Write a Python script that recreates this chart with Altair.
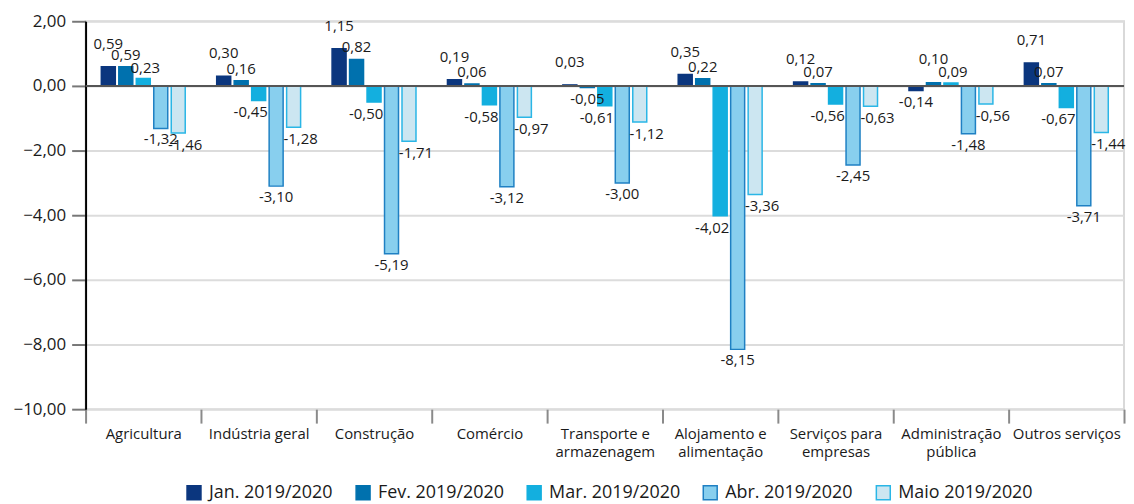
import altair as alt
import pandas as pd

categories = ["Agricultura", "Indústria geral", "Construção", "Comércio",
              "Transporte e\narmazenagem", "Alojamento e\nalimentação",
              "Serviços para\nempresas", "Administração\npública", "Outros serviços"]
months = ["Jan. 2019/2020", "Fev. 2019/2020", "Mar. 2019/2020", "Abr. 2019/2020", "Maio 2019/2020"]

jan = [0.59, 0.30, 1.15, 0.19, 0.03, 0.35, 0.12, -0.14, 0.71]
fev = [0.59, 0.16, 0.82, 0.06, -0.05, 0.22, 0.07, 0.10, 0.07]
mar = [0.23, -0.45, -0.50, -0.58, -0.61, -4.02, -0.56, 0.09, -0.67]
abr = [-1.32, -3.10, -5.19, -3.12, -3.00, -8.15, -2.45, -1.48, -3.71]
mai = [-1.46, -1.28, -1.71, -0.97, -1.12, -3.36, -0.63, -0.56, -1.44]

fills = ["#0b367e", "#0071ae", "#13afdf", "#88cfee", "#cce6f1"]
strokes = ["#0b367e", "#0071ae", "#13afdf", "#1f80c3", "#2ab6e6"]

series = [jan, fev, mar, abr, mai]
rows = []
for mi, (m, vals) in enumerate(zip(months, series)):
    for ci, (c, v) in enumerate(zip(categories, vals)):
        # lift a Fev label when the neighbouring Mar bar is of similar positive height (collision avoidance)
        lift = (mi == 1 and v >= 0 and series[2][ci] >= 0 and series[2][ci] >= 0.8 * v)
        rows.append({"cat": c, "mes": m, "v": v, "lbl": f"{v:.2f}".replace(".", ","), "lift": bool(lift)})
df = pd.DataFrame(rows)

FONT = "Open Sans"

leg = alt.Legend(title=None, orient="none", legendX=100, legendY=465, direction="horizontal",
                 columns=5, symbolType="square", symbolSize=196, symbolStrokeWidth=1.5,
                 labelFont=FONT, labelFontSize=18, labelColor="#1a1a1a", columnPadding=20,
                 labelOffset=6, symbolOpacity=1)

x = alt.X("cat:N", sort=categories, title=None,
          scale=alt.Scale(paddingInner=0, paddingOuter=0),
          axis=alt.Axis(labelAngle=0, domain=False, ticks=True, tickBand="extent",
                        tickColor="#8a8a8a", tickWidth=2, tickSize=14,
                        labelFont=FONT, labelFontSize=15, labelColor="#1a1a1a",
                        labelPadding=3, labelLineHeight=19, labelLimit=0, labelOverlap=False,
                        labelExpr="split(datum.label, '\\n')"))
xo = alt.XOffset("mes:N", sort=months, scale=alt.Scale(paddingInner=0.2, paddingOuter=0.9))
y = alt.Y("v:Q", title=None, scale=alt.Scale(domain=[-10, 2], nice=False),
          axis=alt.Axis(values=[-10, -8, -6, -4, -2, 0, 2], domainColor="#000000", domainWidth=2,
                        tickColor="#777777", tickWidth=2, tickSize=14,
                        gridColor="#dcdcdc", gridWidth=2,
                        labelFont=FONT, labelFontSize=17, labelColor="#1a1a1a", labelPadding=6,
                        labelExpr="replace(format(datum.value, '.2f'), '.', ',')"))

base = alt.Chart(df)

bars = base.mark_bar(strokeWidth=1.5).encode(
    x=x, xOffset=xo, y=y,
    fill=alt.Fill("mes:N", sort=months, scale=alt.Scale(domain=months, range=fills), legend=leg),
    stroke=alt.Stroke("mes:N", sort=months, scale=alt.Scale(domain=months, range=strokes), legend=leg),
)

zero = alt.Chart(pd.DataFrame({"z": [0]})).mark_rule(color="#555555", strokeWidth=2).encode(
    y=alt.Y("z:Q"))

# label placement style per month: (dx, dy) above positive bars, (dx, dy) below negative bars
pos_off = {months[0]: (0, -15), months[1]: (0, -4), months[2]: (2, -3), months[3]: (0, -3), months[4]: (0, -3)}
neg_off = {months[0]: (0, 5), months[1]: (0, 5), months[2]: (-8, 5), months[3]: (0, 4), months[4]: (7, 5)}
LIFT = -12

labels = []
for m in months:
    dx, dy = pos_off[m]
    labels.append(base.transform_filter(
        (alt.datum.mes == m) & (alt.datum.v >= 0) & (alt.datum.lift == False)).mark_text(
        baseline="bottom", dx=dx, dy=dy, font=FONT, fontSize=15, color="#1a1a1a"
    ).encode(x=x, xOffset=xo, y=y, text="lbl:N"))
    labels.append(base.transform_filter(
        (alt.datum.mes == m) & (alt.datum.v >= 0) & (alt.datum.lift == True)).mark_text(
        baseline="bottom", dx=dx, dy=dy + LIFT, font=FONT, fontSize=15, color="#1a1a1a"
    ).encode(x=x, xOffset=xo, y=y, text="lbl:N"))
    dx, dy = neg_off[m]
    labels.append(base.transform_filter(
        (alt.datum.mes == m) & (alt.datum.v < 0)).mark_text(
        baseline="top", dx=dx, dy=dy, font=FONT, fontSize=15, color="#1a1a1a"
    ).encode(x=x, xOffset=xo, y=y, text="lbl:N"))

chart = alt.layer(bars, zero, *labels).properties(
    width=1044, height=390,
    autosize=alt.AutoSizeParams(type="none"),
    padding={"left": 78, "top": 12, "right": 2, "bottom": 94},
).configure_view(stroke="#d9d9d9", strokeWidth=2)

chart.save("out.html", embed_options={"renderer": "svg", "actions": False})
